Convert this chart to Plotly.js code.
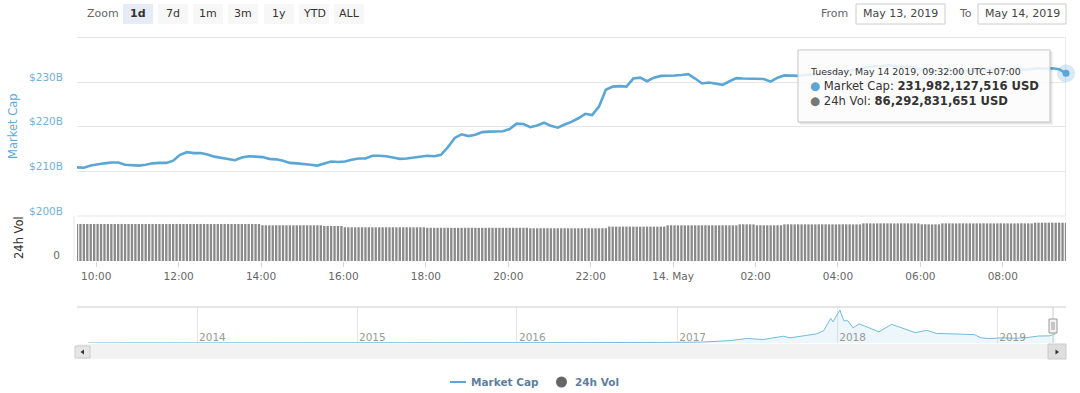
<!DOCTYPE html>
<html><head><meta charset="utf-8">
<script src="https://cdn.plot.ly/plotly-3.0.1.min.js"></script>
<style>html,body{margin:0;padding:0;background:#fff;}#chart{width:1080px;height:393px;}</style>
</head><body><div id="chart"></div>
<script>
// ---------- DATA ----------
// Market cap, billions USD, every 10 minutes from 2019-05-13 09:32 to 2019-05-14 09:32
const mcapStart = '2019-05-13 09:32:00';
const mcap = [
 210.9,210.8,211.3,211.6,211.8,212.0,212.0,211.5,211.4,211.3,
 211.5,211.8,211.9,211.9,212.4,213.7,214.3,214.1,214.1,213.8,
 213.3,213.0,212.8,212.5,213.1,213.4,213.3,213.2,212.8,212.7,
 212.4,211.9,211.8,211.7,211.5,211.3,211.8,212.2,212.1,212.2,
 212.6,212.9,212.9,213.5,213.5,213.4,213.1,212.8,212.9,213.1,
 213.3,213.5,213.4,213.7,215.4,217.5,218.3,217.9,218.2,218.8,
 218.9,219.0,219.0,219.5,220.7,220.6,219.9,220.3,220.9,220.2,
 219.8,220.5,221.1,221.9,222.9,222.6,224.5,228.3,229.0,229.1,
 229.0,230.8,231.0,230.2,231.0,231.4,231.4,231.5,231.6,231.8,
 230.8,229.7,229.9,229.6,229.4,230.2,230.9,230.8,230.8,230.8,
 230.7,230.1,231.0,231.5,231.5,231.4,231.6,231.8,231.7,232.0,
 232.3,232.1,232.4,232.8,233.0,233.4,233.6,233.5,233.8,233.6,
 233.4,233.5,233.1,232.8,232.9,232.6,232.7,232.9,232.6,232.4,
 232.5,232.7,232.6,232.8,232.9,232.7,232.9,233.0,232.8,232.9,
 233.1,233.0,233.1,232.9,231.98
];
// 24h volume, billions USD, every 5 minutes over the same day
const volume = [
 83.6,83.5,83.5,83.4,83.4,83.5,83.5,83.4,83.4,83.3,83.4,83.4,83.5,83.5,83.4,83.4,83.3,83.3,83.4,83.4,
 83.4,83.5,83.5,83.4,83.4,83.3,83.3,83.4,83.4,83.5,83.5,83.4,83.4,83.3,83.4,83.4,83.5,83.4,83.4,83.3,
 83.3,83.4,83.4,83.5,83.5,83.4,83.4,83.3,83.4,83.4,83.5,83.4,83.3,83.3,
 80.6,80.5,80.5,80.4,80.5,80.5,80.6,80.5,80.4,80.4,80.5,80.5,80.6,80.5,80.5,80.4,80.4,80.5,
 79.0,79.1,79.0,78.9,79.0,79.0,
 76.1,76.0,76.0,75.9,76.0,76.1,76.0,76.0,75.9,75.9,76.0,76.0,76.1,76.0,76.0,75.9,76.0,76.0,76.1,76.0,75.9,75.9,76.0,76.0,
 74.8,74.9,74.8,74.7,74.8,74.8,74.9,74.8,74.7,74.7,74.8,74.8,74.9,74.8,74.8,74.7,74.8,74.8,74.9,74.8,74.7,74.8,74.8,74.9,74.8,74.8,74.7,74.8,74.8,74.9,
 73.8,73.7,73.8,73.9,73.8,73.8,73.7,73.7,73.8,73.8,73.9,73.8,73.8,73.7,73.8,73.8,73.9,73.8,73.7,73.8,73.8,73.9,73.8,
 77.6,77.5,77.5,77.4,77.5,77.6,77.5,77.5,77.4,77.5,77.5,77.6,77.5,77.4,77.5,77.5,77.6,
 80.4,80.5,80.4,80.3,80.4,80.4,80.5,80.4,80.4,80.3,80.4,80.5,80.4,80.4,80.3,80.4,80.4,80.5,80.4,80.4,80.3,
 82.6,82.7,82.6,82.6,82.5,
 80.4,80.5,80.4,80.4,80.3,80.4,80.5,80.4,
 82.6,82.7,82.6,82.5,82.6,82.6,82.7,82.6,82.6,82.5,82.6,82.6,82.7,82.6,82.6,82.5,82.6,82.7,82.6,82.6,82.5,82.6,82.6,
 84.8,84.9,84.8,84.7,84.8,84.8,84.9,84.8,84.8,84.7,84.8,84.9,84.8,84.8,84.7,84.8,84.8,
 82.6,82.7,82.6,82.5,82.6,82.6,
 84.8,84.9,84.8,84.8,84.7,84.8,84.9,84.8,84.8,84.7,84.8,84.8,84.9,84.8,84.8,84.7,84.8,84.9,84.8,84.8,84.7,84.8,84.8,84.9,84.8,84.8,84.7,
 86.2,86.3,86.3,86.2,86.3,86.4,86.3,86.3,86.2,86.29
];
const xTickVals = ['2019-05-13 10:00','2019-05-13 12:00','2019-05-13 14:00','2019-05-13 16:00','2019-05-13 18:00','2019-05-13 20:00','2019-05-13 22:00','2019-05-14 00:00','2019-05-14 02:00','2019-05-14 04:00','2019-05-14 06:00','2019-05-14 08:00'];
const xTickText = ['10:00','12:00','14:00','16:00','18:00','20:00','22:00','14. May','02:00','04:00','06:00','08:00'];
const yTickVals = [200,210,220,230,240];
const yTickText = ['$200B','$210B','$220B','$230B',''];

// Navigator: full history of total market cap, billions USD
const navDates = ['2013-04-28','2013-07-01','2013-10-01','2013-11-20','2013-12-05','2014-01-01','2014-03-01','2014-06-01','2014-09-01','2015-01-01','2015-06-01','2016-01-01','2016-06-15','2017-01-01','2017-03-01','2017-05-01','2017-06-10','2017-07-15','2017-08-31','2017-09-15','2017-10-15','2017-11-15','2017-12-01','2017-12-17','2017-12-22','2018-01-07','2018-01-16','2018-01-25','2018-02-06','2018-02-20','2018-03-15','2018-04-06','2018-05-05','2018-06-01','2018-06-28','2018-07-25','2018-08-15','2018-09-20','2018-10-20','2018-11-10','2018-11-25','2018-12-15','2019-01-10','2019-02-10','2019-03-10','2019-04-05','2019-05-01','2019-05-14'];
const navCap = [1.5,1.0,1.7,9,14,10,8,8,6,5,4,7,10,17,25,60,115,85,170,130,180,230,310,620,530,830,560,560,380,480,380,280,470,360,260,320,240,230,210,210,130,110,130,120,135,175,180,232];
const navTickVals = ['2014-01-01','2015-01-01','2016-01-01','2017-01-01','2018-01-01','2019-01-01'];
const navTickText = ['2014','2015','2016','2017','2018','2019'];

const zoomButtons = ['1d','7d','1m','3m','1y','YTD','ALL'];
const fromDate = 'May 13, 2019';
const toDate = 'May 14, 2019';
const tooltipLines = ['Tuesday, May 14 2019, 09:32:00 UTC+07:00','231,982,127,516 USD','86,292,831,651 USD'];
const seriesNames = ['Market Cap','24h Vol'];

// ---------- BUILD ----------
function fmt(ms){return new Date(ms).toISOString().slice(0,19).replace('T',' ');}
const t0 = Date.UTC(2019,4,13,9,32,0);
const mcapTimes = mcap.map((_,i)=>fmt(t0+i*600000));
const volTimes = volume.map((_,i)=>fmt(t0+i*300000));
const last = mcap.length-1;

const W=1080,H=393;
const fx=p=>p/W, fy=p=>1-p/H;
const FONT='DejaVu Sans';
const lineColor='#5aa6d4';
const volColor='#8a8a8a';

const traces = [
 {x:volTimes,y:volume,type:'bar',xaxis:'x',yaxis:'y2',marker:{color:volColor,line:{width:0}},hoverinfo:'skip'},
 {x:mcapTimes,y:mcap,type:'scatter',mode:'lines',xaxis:'x',yaxis:'y',line:{color:lineColor,width:2.6},hoverinfo:'skip'},
 {x:[mcapTimes[last]],y:[mcap[last]],type:'scatter',mode:'markers',xaxis:'x',yaxis:'y',marker:{size:18,color:'rgba(90,166,212,0.25)'},hoverinfo:'skip',cliponaxis:false},
 {x:[mcapTimes[last]],y:[mcap[last]],type:'scatter',mode:'markers',xaxis:'x',yaxis:'y',marker:{size:7,color:lineColor},hoverinfo:'skip',cliponaxis:false},
 {x:navDates,y:navCap,type:'scatter',mode:'lines',xaxis:'x3',yaxis:'y3',fill:'tozeroy',fillcolor:'rgba(110,186,222,0.13)',line:{color:'#74bbda',width:1},hoverinfo:'skip'}
];

const shapes = [];
const ann = [];
function rect(x0,y0,x1,y1,fill,line,lw){shapes.push({type:'rect',xref:'paper',yref:'paper',x0:fx(x0),x1:fx(x1),y0:fy(y1),y1:fy(y0),fillcolor:fill,line:{color:line||'rgba(0,0,0,0)',width:lw===undefined?(line?1:0):lw},layer:'above'});}
function hline(x0,x1,y,c){shapes.push({type:'line',xref:'paper',yref:'paper',x0:fx(x0),x1:fx(x1),y0:fy(y),y1:fy(y),line:{color:c,width:1},layer:'above'});}
function vline(x,y0,y1,c){shapes.push({type:'line',xref:'paper',yref:'paper',x0:fx(x),x1:fx(x),y0:fy(y0),y1:fy(y1),line:{color:c,width:1},layer:'above'});}
function text(t,x,y,opt){ann.push(Object.assign({text:t,xref:'paper',yref:'paper',x:fx(x),y:fy(y),showarrow:false,xanchor:'left',yanchor:'middle',borderpad:0,font:{family:FONT,size:11,color:'#333'}},opt||{}));}

// pane borders
hline(77,1066,37.5,'#e6e6e6');
hline(77,1066,216,'#e6e6e6');
vline(74,216,261,'#e6e6e6');
// crosshair at hovered point
shapes.push({type:'line',xref:'x',yref:'paper',x0:mcapTimes[last],x1:mcapTimes[last],y0:fy(216),y1:fy(37.5),line:{color:'#d6d6d6',width:1},layer:'below'});

// range selector
text('Zoom',86,14,{font:{family:FONT,size:11,color:'#666'}});
const btnX=[123,158,193,228,264,299,334];
zoomButtons.forEach((b,i)=>{
  rect(btnX[i],4,btnX[i]+30,24,i===0?'#e6ebf5':'#f7f7f7');
  text(i===0?'<b>'+b+'</b>':b,btnX[i]+15,14,{xanchor:'center',font:{family:FONT,size:11,color:'#333'}});
});
// from / to inputs
text('From',820,14,{font:{family:FONT,size:11,color:'#666'}});
rect(856,4,945,24,'#fff','#cccccc');
text(fromDate,900.5,14,{xanchor:'center',font:{family:FONT,size:11,color:'#444'}});
text('To',958,14,{font:{family:FONT,size:11,color:'#666'}});
rect(978,4,1066,24,'#fff','#cccccc');
text(toDate,1022,14,{xanchor:'center',font:{family:FONT,size:11,color:'#444'}});

// axis titles
text(seriesNames[0],13,126,{xanchor:'center',textangle:-90,font:{family:FONT,size:11.5,color:'#5fa9d6'}});
text(seriesNames[1],19,238,{xanchor:'center',textangle:-90,font:{family:FONT,size:11.5,color:'#333'}});

// tooltip
rect(800,52,1053,125,'rgba(0,0,0,0.05)');
rect(799,51,1052,124,'rgba(0,0,0,0.05)');
rect(798,50,1050,122,'rgba(255,255,255,0.86)','#c4c4c4');
text(tooltipLines[0],809,71,{font:{family:FONT,size:9.4,color:'#333'}});
text('<span style="color:'+lineColor+'">●</span> '+seriesNames[0]+': <b>'+tooltipLines[1]+'</b>',809,86,{font:{family:FONT,size:11.6,color:'#333'}});
text('<span style="color:#777">●</span> '+seriesNames[1]+': <b>'+tooltipLines[2]+'</b>',809,101,{font:{family:FONT,size:11.6,color:'#333'}});

// navigator outline, scrollbar, handle
hline(77,1066,307,'#cccccc');
rect(77,344,1066,359,'#f2f2f2');
rect(75,346,90,358,'#e6e6e6','#cccccc');
shapes.push({type:'path',xref:'paper',yref:'paper',path:'M '+fx(84)+' '+fy(349.5)+' L '+fx(80.5)+' '+fy(352)+' L '+fx(84)+' '+fy(354.5)+' Z',fillcolor:'#333',line:{width:0},layer:'above'});
rect(1048,344,1066,359,'#dedede','#cccccc');
shapes.push({type:'path',xref:'paper',yref:'paper',path:'M '+fx(1055.5)+' '+fy(349.5)+' L '+fx(1059)+' '+fy(352)+' L '+fx(1055.5)+' '+fy(354.5)+' Z',fillcolor:'#333',line:{width:0},layer:'above'});
vline(1053,307,343,'#cccccc');
rect(1049,319,1057,333,'#f2f2f2','#999999');
vline(1052,322,330,'#999');
vline(1054,322,330,'#999');

// legend
shapes.push({type:'line',xref:'paper',yref:'paper',x0:fx(450),x1:fx(466),y0:fy(382),y1:fy(382),line:{color:lineColor,width:2},layer:'above'});
shapes.push({type:'circle',xref:'paper',yref:'paper',x0:fx(556),x1:fx(567),y0:fy(387.5),y1:fy(376.5),fillcolor:'#666',line:{width:0},layer:'above'});
text('<b>'+seriesNames[0]+'</b>',470,381.5,{font:{family:FONT,size:10.5,color:'#5f7f9c'}});
text('<b>'+seriesNames[1]+'</b>',574,381.5,{font:{family:FONT,size:10.5,color:'#5f7f9c'}});

const layout = {
  width:W,height:H,margin:{l:0,r:0,t:0,b:0},
  paper_bgcolor:'#ffffff',plot_bgcolor:'rgba(0,0,0,0)',
  showlegend:false,bargap:0.32,
  font:{family:FONT,color:'#333'},
  xaxis:{domain:[fx(77),fx(1066)],anchor:'y2',type:'date',range:[mcapTimes[0],mcapTimes[last]],
    tickmode:'array',tickvals:xTickVals,ticktext:xTickText,showgrid:false,zeroline:false,showline:false,
    ticks:'outside',ticklen:5,tickcolor:'#ccd6eb',tickfont:{family:FONT,size:10.5,color:'#666'},fixedrange:true},
  yaxis:{domain:[fy(216),fy(37.5)],anchor:'x',range:[200,240],tickmode:'array',tickvals:yTickVals,ticktext:yTickText,
    showgrid:true,gridcolor:'#e6e6e6',gridwidth:1,zeroline:false,showline:false,ticks:'',
    tickfont:{family:FONT,size:10.5,color:'#74b0d4'},ticklabelshift:-5,ticklabelstandoff:13,fixedrange:true},
  yaxis2:{domain:[fy(261),fy(216)],anchor:'x',range:[0,101.4],tickmode:'array',tickvals:[0],ticktext:['0'],
    showgrid:false,zeroline:false,showline:false,ticks:'',tickfont:{family:FONT,size:10.5,color:'#666'},
    ticklabelshift:-6,ticklabelstandoff:16,fixedrange:true},
  xaxis3:{domain:[fx(77),fx(1066)],anchor:'y3',type:'date',range:['2013-04-02','2019-06-07'],
    tickmode:'array',tickvals:navTickVals,ticktext:navTickText,showgrid:true,gridcolor:'#e6e6e6',zeroline:false,showline:false,
    ticks:'',ticklabelposition:'inside right',ticklabelstandoff:-6,ticklabelshift:2,tickfont:{family:FONT,size:10.5,color:'#999'},fixedrange:true},
  yaxis3:{domain:[fy(343),fy(307)],anchor:'x3',range:[0,905],visible:false,fixedrange:true},
  shapes:shapes,annotations:ann
};
Plotly.newPlot('chart',traces,layout,{displayModeBar:false,staticPlot:true});
</script></body></html>
